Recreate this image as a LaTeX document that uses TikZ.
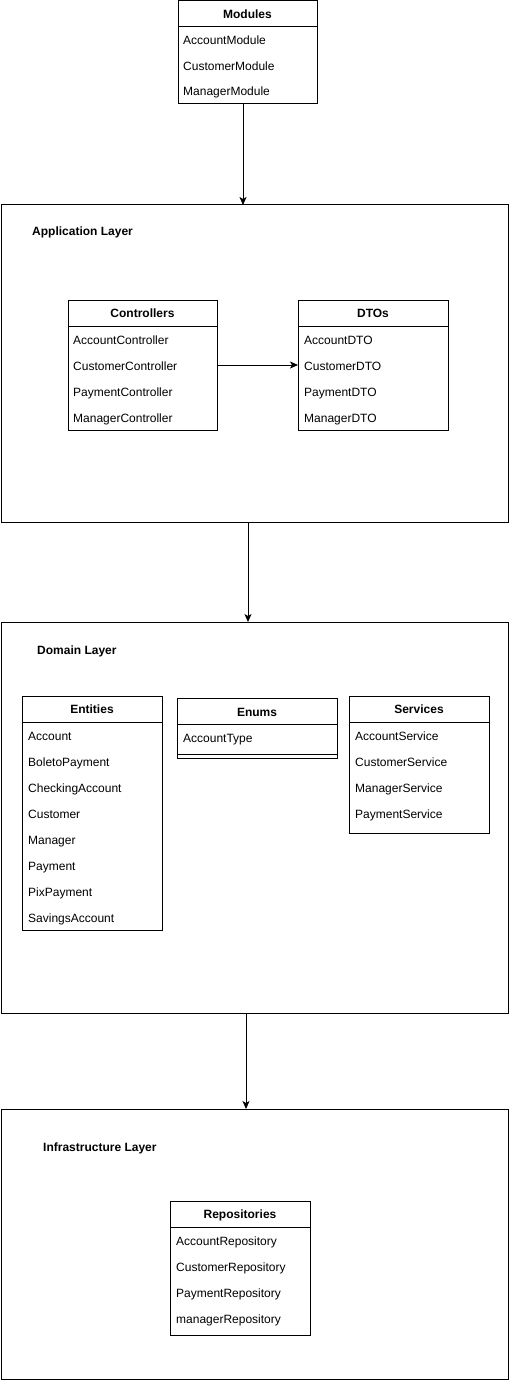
\documentclass[tikz,border=0pt]{standalone}
\usepackage{fontspec}
\setmainfont{Liberation Sans}
\usetikzlibrary{arrows.meta}
\begin{document}
\begin{tikzpicture}[x=1pt,y=-1pt,
  box/.style={draw,line width=1pt,anchor=north west,inner sep=0pt,outer sep=0pt},
  hdr/.style={font=\bfseries\fontsize{12}{14}\selectfont,anchor=center,inner sep=0pt,text height=8.6pt,text depth=0pt},
  itm/.style={font=\fontsize{12}{14}\selectfont,anchor=west,inner sep=0pt,text height=8.6pt,text depth=0pt},
  lbl/.style={font=\bfseries\fontsize{12}{14}\selectfont,anchor=west,inner sep=0pt,text height=8.6pt,text depth=0pt},
  sep/.style={line width=1pt},
  arr/.style={line width=1pt,-{Stealth[length=8pt,width=7pt,inset=2pt]}}]
\useasboundingbox (0,0) rectangle (509,1380);

% Layers
\node[box,minimum width=507pt,minimum height=317pt] (app) at (1,205) {};
\node[lbl] (applbl) at (32,231) {Application Layer};
\node[box,minimum width=507pt,minimum height=391pt] (dom) at (1,622) {};
\node[lbl] (domlbl) at (37,650) {Domain Layer};
\node[box,minimum width=507pt,minimum height=270pt] (inf) at (1,1109) {};
\node[lbl] (inflbl) at (43,1147) {Infrastructure Layer};

% Modules
\node[box,minimum width=139pt,minimum height=103pt] (mod) at (178,1) {};
\draw[sep] (178,26.5) -- (317,26.5);
\node[hdr] (modh) at (247.5,14) {Modules};
\node[itm] (mod1) at (183,40) {AccountModule};
\node[itm] (mod2) at (183,66) {CustomerModule};
\node[itm] (mod3) at (183,91) {ManagerModule};

% Controllers
\node[box,minimum width=149pt,minimum height=130pt] (ctrl) at (68,300) {};
\draw[sep] (68,326.5) -- (217,326.5);
\node[hdr] (ctrlh) at (142.5,313) {Controllers};
\node[itm] (ctrl1) at (73,340) {AccountController};
\node[itm] (ctrl2) at (73,366) {CustomerController};
\node[itm] (ctrl3) at (73,392) {PaymentController};
\node[itm] (ctrl4) at (73,418) {ManagerController};

% DTOs
\node[box,minimum width=150pt,minimum height=130pt] (dto) at (298,300) {};
\draw[sep] (298,326.5) -- (448,326.5);
\node[hdr] (dtoh) at (373,313) {DTOs};
\node[itm] (dto1) at (304,340) {AccountDTO};
\node[itm] (dto2) at (304,366) {CustomerDTO};
\node[itm] (dto3) at (304,392) {PaymentDTO};
\node[itm] (dto4) at (304,418) {ManagerDTO};

% Entities
\node[box,minimum width=140pt,minimum height=234pt] (ent) at (22,696) {};
\draw[sep] (22,722) -- (162,722);
\node[hdr] (enth) at (92,709) {Entities};
\node[itm] (ent1) at (28,736) {Account};
\node[itm] (ent2) at (28,762) {BoletoPayment};
\node[itm] (ent3) at (28,788) {CheckingAccount};
\node[itm] (ent4) at (28,814) {Customer};
\node[itm] (ent5) at (28,840) {Manager};
\node[itm] (ent6) at (28,866) {Payment};
\node[itm] (ent7) at (28,892) {PixPayment};
\node[itm] (ent8) at (28,918) {SavingsAccount};

% Enums
\node[box,minimum width=160pt,minimum height=60pt] (enm) at (177,698) {};
\draw[sep] (177,724) -- (337,724);
\draw[sep] (177,754) -- (337,754);
\node[hdr] (enmh) at (257,712) {Enums};
\node[itm] (enm1) at (183,738) {AccountType};

% Services
\node[box,minimum width=140pt,minimum height=137pt] (srv) at (349,696) {};
\draw[sep] (349,722) -- (489,722);
\node[hdr] (srvh) at (419,709) {Services};
\node[itm] (srv1) at (355,736) {AccountService};
\node[itm] (srv2) at (355,762) {CustomerService};
\node[itm] (srv3) at (355,788) {ManagerService};
\node[itm] (srv4) at (355,814) {PaymentService};

% Repositories
\node[box,minimum width=140pt,minimum height=134pt] (rep) at (170,1201) {};
\draw[sep] (170,1227) -- (310,1227);
\node[hdr] (reph) at (240,1214) {Repositories};
\node[itm] (rep1) at (176,1241) {AccountRepository};
\node[itm] (rep2) at (176,1267) {CustomerRepository};
\node[itm] (rep3) at (176,1293) {PaymentRepository};
\node[itm] (rep4) at (176,1319) {managerRepository};

% Connectors
\draw[arr] ([xshift=-4.5pt]mod.south) -- ([xshift=-4.5pt]mod.south |- app.north);
\draw[arr] (ctrl.east) -- (dto.west);
\draw[arr] ([xshift=-6.5pt]app.south) -- ([xshift=-6.5pt]app.south |- dom.north);
\draw[arr] ([xshift=-8.5pt]dom.south) -- ([xshift=-8.5pt]dom.south |- inf.north);
\end{tikzpicture}
\end{document}
